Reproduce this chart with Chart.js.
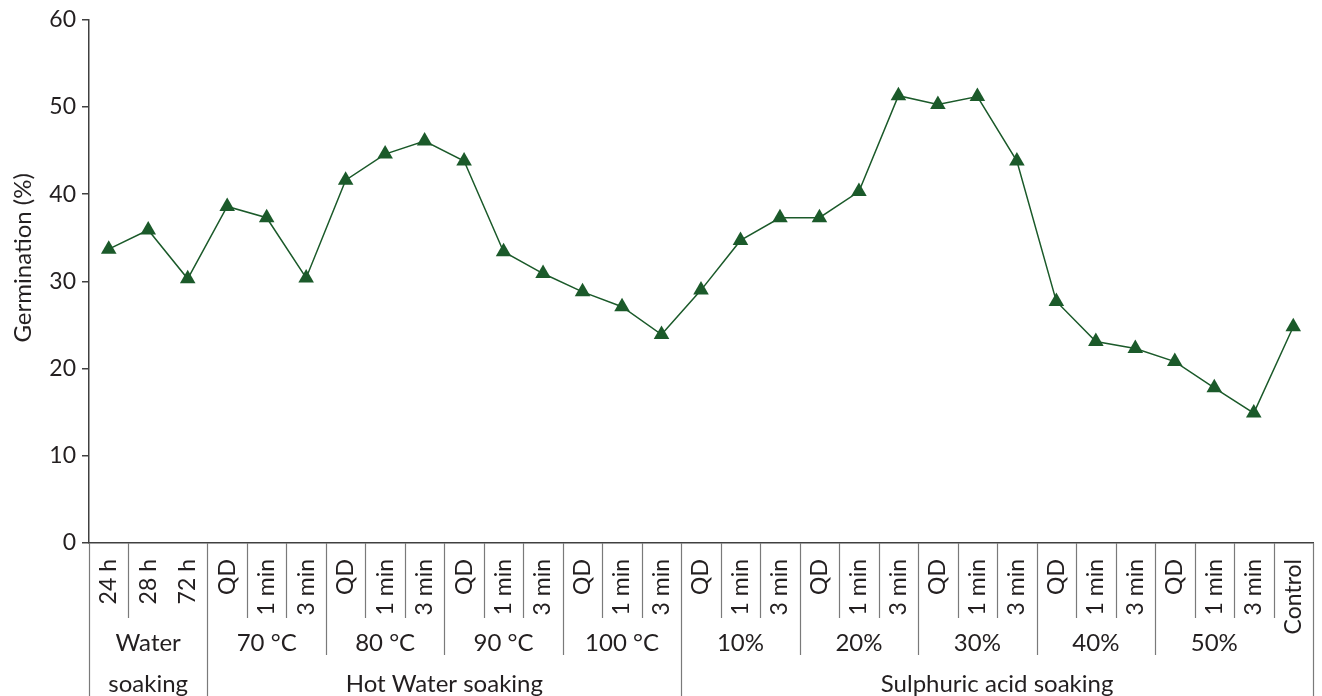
<!doctype html>
<html lang="en">
<head>
    <meta charset="UTF-8">
    <title>Germination</title>
    <script src="https://cdn.jsdelivr.net/npm/chart.js"></script>
    <style>
        body { margin: 0; background: #fff; }
        #wrap { width: 1322px; height: 696px; position: relative; }
    </style>
</head>
<body>
<div id="wrap">
    <canvas id="germinationChart"></canvas>
</div>
<script>
  // innermost category labels (one per point)
  const treatments = [
    '24 h', '28 h', '72 h',
    'QD', '1 min', '3 min', 'QD', '1 min', '3 min', 'QD', '1 min', '3 min', 'QD', '1 min', '3 min',
    'QD', '1 min', '3 min', 'QD', '1 min', '3 min', 'QD', '1 min', '3 min', 'QD', '1 min', '3 min',
    'QD', '1 min', '3 min',
    'Control'
  ];
  const germination = [
    33.7, 35.9, 30.3,
    38.6, 37.3, 30.4, 41.6, 44.6, 46.1, 43.8, 33.4, 30.9, 28.8, 27.1, 23.9,
    29.0, 34.7, 37.3, 37.3, 40.3, 51.3, 50.3, 51.2, 43.8, 27.7, 23.1, 22.3,
    20.8, 17.8, 14.9,
    24.8
  ];
  // second level: [label, first index, last index]
  const levelTwo = [
    ['Water', 0, 2], ['70 °C', 3, 5], ['80 °C', 6, 8], ['90 °C', 9, 11], ['100 °C', 12, 14],
    ['10%', 15, 17], ['20%', 18, 20], ['30%', 21, 23], ['40%', 24, 26], ['50%', 27, 29]
  ];
  // third level
  const levelThree = [
    ['soaking', 0, 2], ['Hot Water soaking', 3, 14], ['Sulphuric acid soaking', 15, 30]
  ];
  // boundaries without a short divider
  const noDivider = [2];
  const yTitle = 'Germination (%)';

  const textColor = '#231f20';
  const lineColor = '#1b5a2a';
  const fontFamily = 'Lato, "Noto Sans", sans-serif';

  const groupAxis = {
    id: 'groupAxis',
    afterDraw(chart) {
      const ctx = chart.ctx;
      const x = chart.scales.x;
      const top = chart.chartArea.bottom;
      const bottom = chart.height;
      const half = (x.getPixelForValue(1) - x.getPixelForValue(0)) / 2;
      const edge = (i) => x.getPixelForValue(i) - half;

      const starts3 = levelThree.map(g => g[1]);
      const starts2 = levelTwo.map(g => g[1]);

      ctx.save();
      ctx.lineWidth = 1.2;
      ctx.strokeStyle = '#7a7a7a';
      for (let k = 0; k <= treatments.length; k++) {
        let end = top + 75;
        if (k === 0 || k === treatments.length || starts3.includes(k)) {
          end = bottom;
        } else if (starts2.includes(k)) {
          end = top + 112;
        } else if (noDivider.includes(k)) {
          continue;
        }
        const px = Math.round(edge(k)) + 0.5;
        ctx.beginPath();
        ctx.moveTo(px, top);
        ctx.lineTo(px, end);
        ctx.stroke();
      }

      ctx.fillStyle = textColor;
      ctx.font = '24px ' + fontFamily;
      ctx.textAlign = 'center';
      ctx.textBaseline = 'alphabetic';
      levelTwo.forEach(([text, a, b]) => {
        ctx.fillText(text, (edge(a) + edge(b + 1)) / 2, top + 108);
      });
      levelThree.forEach(([text, a, b]) => {
        ctx.fillText(text, (edge(a) + edge(b + 1)) / 2, top + 149);
      });

      // y axis title, sits a little above the middle like the original
      ctx.translate(23, chart.chartArea.top + 238);
      ctx.rotate(-Math.PI / 2);
      ctx.textBaseline = 'middle';
      ctx.fillText(yTitle, 0, 0);
      ctx.restore();
    }
  };

  new Chart(document.getElementById('germinationChart'), {
    type: 'line',
    data: {
      labels: treatments,
      datasets: [{
        label: yTitle,
        data: germination,
        borderColor: lineColor,
        borderWidth: 1.5,
        pointStyle: 'triangle',
        pointRadius: 9,
        pointBackgroundColor: lineColor,
        pointBorderColor: lineColor,
        pointBorderWidth: 0,
        tension: 0
      }]
    },
    options: {
      responsive: true,
      maintainAspectRatio: false,
      animation: false,
      layout: {
        padding: { top: 18, right: 5, left: 0, bottom: 0 }
      },
      plugins: {
        legend: { display: false },
        tooltip: { enabled: false }
      },
      scales: {
        x: {
          offset: true,
          grid: { display: false },
          border: { display: true, color: '#404040', width: 1.5 },
          ticks: {
            autoSkip: false,
            minRotation: 90,
            maxRotation: 90,
            padding: 8,
            color: textColor,
            font: { family: fontFamily, size: 23 }
          },
          afterFit(scale) {
            scale.height = 153;
            scale.paddingLeft = 0;
            scale.paddingRight = 0;
          }
        },
        y: {
          min: 0,
          max: 60,
          ticks: {
            stepSize: 10,
            padding: 6,
            color: textColor,
            font: { family: fontFamily, size: 23 }
          },
          grid: {
            drawOnChartArea: false,
            drawTicks: true,
            tickLength: 7,
            color: '#404040',
            lineWidth: 1.5
          },
          border: { display: true, color: '#404040', width: 1.5 },
          afterFit(scale) {
            scale.width = 89;
          }
        }
      }
    },
    plugins: [groupAxis]
  });
</script>
</body>
</html>
